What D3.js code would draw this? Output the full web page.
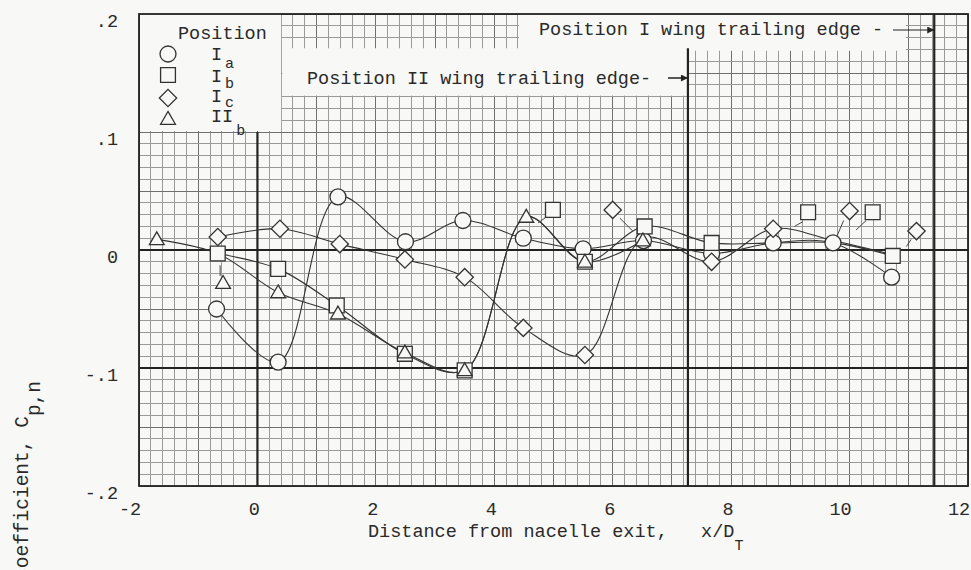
<!DOCTYPE html>
<html>
<head>
<meta charset="UTF-8">
<script src="https://d3js.org/d3.v7.min.js"></script>
<style>
  body { margin: 0; background: #f8f8f6; }
  svg { display: block; }
  text { font-family: "Liberation Mono", "DejaVu Sans Mono", monospace; font-size: 18.5px; fill: #2a2a2a; white-space: pre; }
  .minor { stroke: #9a9a9a; stroke-width: 1; shape-rendering: crispEdges; }
  .mid { stroke: #707070; stroke-width: 1; shape-rendering: crispEdges; }
  .heavy { stroke: #222; stroke-width: 2.2; }
  .curve { fill: none; stroke: #333; stroke-width: 1.1; }
  .mark { fill: #f8f8f6; stroke: #333; stroke-width: 1.3; }
  .leader { stroke: #444; stroke-width: 1; }
  .sub { font-size: 15px; }
</style>
</head>
<body>
<svg width="971" height="570"></svg>
<script>
// tick values and labels
const xTicks = [-2, 0, 2, 4, 6, 8, 10, 12];
const yTicks = [0.2, 0.1, 0, -0.1, -0.2];
const yTickLabels = [".2", ".1", "0", "-.1", "-.2"];

// Position Ia (circles)
const iaX = [-0.69, 0.35, 1.36, 2.50, 3.47, 4.49, 5.50, 6.52, 7.67, 8.71, 9.72, 10.71];
const iaY = [-0.050, -0.095, 0.045, 0.007, 0.025, 0.010, 0.001, 0.008, -0.003, 0.006, 0.006, -0.023];
const iaHidden = [];

// Position Ib (squares)
const ibX = [-0.67, 0.35, 1.34, 2.49, 3.50, 4.54, 5.53, 6.54, 7.67, 8.71, 9.72, 10.73];
const ibY = [-0.003, -0.016, -0.047, -0.088, -0.102, 0.028, -0.010, 0.020, 0.006, 0.006, 0.006, -0.005];
const ibHidden = [4.54, 8.71, 9.72];

// Position Ic (diamonds)
const icX = [-0.67, 0.38, 1.39, 2.49, 3.50, 4.49, 5.53, 6.52, 7.67, 8.71, 9.72, 10.73];
const icY = [0.011, 0.018, 0.005, -0.008, -0.023, -0.066, -0.089, 0.010, -0.010, 0.018, 0.008, -0.004];
const icHidden = [6.52, 9.72, 10.73];

// Position IIb (triangles)
const iibX = [-1.70, -0.67, 0.35, 1.36, 2.49, 3.50, 4.54, 5.53, 6.51];
const iibY = [0.009, -0.003, -0.036, -0.054, -0.087, -0.102, 0.028, -0.010, 0.008];
const iibHidden = [-0.67];

// symbols drawn off the curve with a leader: [series, x, y, leader x1, y1, x2, y2]
const flagMarks = [
  ["IIb", -0.58, -0.028, -0.63, -0.013, -0.63, -0.022],
  ["Ib", 4.99, 0.034, 4.88, 0.028, 4.74, 0.023],
  ["Ic", 6.00, 0.034, 6.12, 0.027, 6.34, 0.016],
  ["Ib", 9.30, 0.032, 9.21, 0.024, 9.07, 0.020],
  ["Ic", 10.00, 0.033, 9.90, 0.025, 9.78, 0.011],
  ["Ib", 10.39, 0.032, 10.28, 0.025, 10.11, 0.017],
  ["Ic", 11.13, 0.016, 11.04, 0.009, 10.96, 0.003]
];

// wing trailing edge stations
const teX = [7.27, 11.43];

const svg = d3.select("svg");
const x = d3.scaleLinear().domain([-2, 12]).range([139, 968]);
const y = d3.scaleLinear().domain([-0.2, 0.2]).range([486, 14]);

const symCircle = d3.symbol().type(d3.symbolCircle).size(200)();
const symSquare = d3.symbol().type(d3.symbolSquare).size(220)();
const symDiamond = d3.symbol().type(d3.symbolSquare).size(150)();
const symTriangle = d3.symbol().type(d3.symbolTriangle).size(95)();
const shapes = {
  Ia: { d: symCircle, rot: 0, dy: 0 },
  Ib: { d: symSquare, rot: 0, dy: 0 },
  Ic: { d: symDiamond, rot: 45, dy: 0 },
  IIb: { d: symTriangle, rot: 0, dy: 1 }
};

// graph paper
const grid = svg.append("g");
d3.range(0, 71).map(i => -2 + i * 0.2).forEach((v, i) => {
  grid.append("line").attr("class", i % 5 === 0 ? "mid" : "minor")
    .attr("x1", x(v)).attr("x2", x(v)).attr("y1", y(0.2)).attr("y2", y(-0.2));
});
d3.range(0, 41).map(i => -0.2 + i * 0.01).forEach((v, i) => {
  grid.append("line").attr("class", i % 5 === 0 ? "mid" : "minor")
    .attr("x1", x(-2)).attr("x2", x(12)).attr("y1", y(v)).attr("y2", y(v));
});

// blank patches for legend and notes
const patches = [[-2, 0.4, 0.1, 0.2], [0.4, 7.27, 0.13, 0.171], [4.4, 10.95, 0.168, 0.2]];
patches.forEach(p => {
  svg.append("rect").attr("x", x(p[0]) + 1).attr("y", y(p[3]))
    .attr("width", x(p[1]) - x(p[0]) - 1).attr("height", y(p[2]) - y(p[3]) - 1)
    .attr("fill", "#f8f8f6");
});

// heavy axes and trailing edge lines
[0].forEach(v => svg.append("line").attr("class", "heavy")
  .attr("x1", x(v)).attr("x2", x(v)).attr("y1", y(0.1)).attr("y2", y(-0.2)));
[0, -0.1].forEach(v => svg.append("line").attr("class", "heavy")
  .attr("x1", x(-2)).attr("x2", x(12)).attr("y1", y(v)).attr("y2", y(v)));
teX.forEach((v, i) => svg.append("line").attr("class", "heavy")
  .attr("x1", x(v)).attr("x2", x(v)).attr("y1", i === 0 ? y(0.171) : y(0.2)).attr("y2", y(-0.2)));

svg.append("rect").attr("x", x(-2)).attr("y", y(0.2))
  .attr("width", x(12) - x(-2)).attr("height", y(-0.2) - y(0.2))
  .attr("fill", "none").attr("stroke", "#222").attr("stroke-width", 1.8);

// curves
const line = d3.line().x(d => x(d[0])).y(d => y(d[1])).curve(d3.curveCatmullRom.alpha(0.5));
const series = [["Ia", iaX, iaY, iaHidden], ["Ib", ibX, ibY, ibHidden],
                ["Ic", icX, icY, icHidden], ["IIb", iibX, iibY, iibHidden]];
series.forEach(s => {
  svg.append("path").attr("class", "curve").attr("d", line(d3.zip(s[1], s[2])));
});

// leaders
flagMarks.forEach(f => {
  svg.append("line").attr("class", "leader")
    .attr("x1", x(f[3])).attr("y1", y(f[4])).attr("x2", x(f[5])).attr("y2", y(f[6]));
});

// markers
function mark(g, key, px, py) {
  const s = shapes[key];
  g.append("path").attr("class", "mark").attr("d", s.d)
    .attr("transform", `translate(${px},${py + s.dy}) rotate(${s.rot})`);
}
const marks = svg.append("g");
series.forEach(s => {
  s[1].forEach((xv, i) => {
    if (s[3].includes(xv)) return;
    mark(marks, s[0], x(xv), y(s[2][i]));
  });
});
flagMarks.forEach(f => mark(marks, f[0], x(f[1]), y(f[2])));

// tick labels (typed slightly left of the grid lines)
xTicks.forEach(v => svg.append("text")
  .attr("x", x(v) - (String(v).length > 1 ? 9 : 3)).attr("y", 515)
  .attr("text-anchor", "middle").text(v));
yTicks.forEach((v, i) => svg.append("text").attr("x", 118).attr("y", y(v) + 13)
  .attr("text-anchor", "end").text(yTickLabels[i]));

// axis titles
const xt = svg.append("text").attr("x", 368).attr("y", 537);
xt.append("tspan").text("Distance from nacelle exit,   x/D");
xt.append("tspan").attr("class", "sub").attr("dy", 13).text("T");

const yt = svg.append("text").attr("transform", "translate(28,381) rotate(-90)")
  .attr("text-anchor", "end").style("font-size", "19.5px");
yt.append("tspan").text("Pressure coefficient, C");
yt.append("tspan").attr("dy", 12).text("p,n");

// legend
svg.append("text").attr("x", 178).attr("y", 39).text("Position");
const legKeys = ["Ia", "Ib", "Ic", "IIb"];
const legMain = ["I", "I", "I", "II"];
const legSub = ["a", "b", "c", "b"];
const legY = [54, 75, 98, 119];
const legBase = [60, 82, 102, 122];
const legSubBase = [68, 88, 107, 135];
legKeys.forEach((k, i) => {
  mark(svg, k, 168, legY[i]);
  svg.append("text").attr("x", 211).attr("y", legBase[i]).text(legMain[i]);
  svg.append("text").attr("class", "sub").attr("x", 214 + legMain[i].length * 11.1)
    .attr("y", legSubBase[i]).text(legSub[i]);
});

// trailing edge notes
svg.append("defs").append("marker").attr("id", "ah").attr("viewBox", "0 0 10 10")
  .attr("refX", 10).attr("refY", 5).attr("orient", "auto").attr("markerUnits", "userSpaceOnUse")
  .attr("markerWidth", 16).attr("markerHeight", 7)
  .append("path").attr("d", "M0,0L10,5L0,10Z").attr("fill", "#222");

svg.append("text").attr("x", 539).attr("y", 35).text("Position I wing trailing edge -");
svg.append("line").attr("x1", 893).attr("x2", x(teX[1])).attr("y1", 30).attr("y2", 30)
  .attr("stroke", "#222").attr("stroke-width", 1.2).attr("marker-end", "url(#ah)");

svg.append("text").attr("x", 307).attr("y", 84).text("Position II wing trailing edge-");
svg.append("line").attr("x1", 668).attr("x2", x(teX[0])).attr("y1", 78).attr("y2", 78)
  .attr("stroke", "#222").attr("stroke-width", 1.5).attr("marker-end", "url(#ah)");
</script>
</body>
</html>
